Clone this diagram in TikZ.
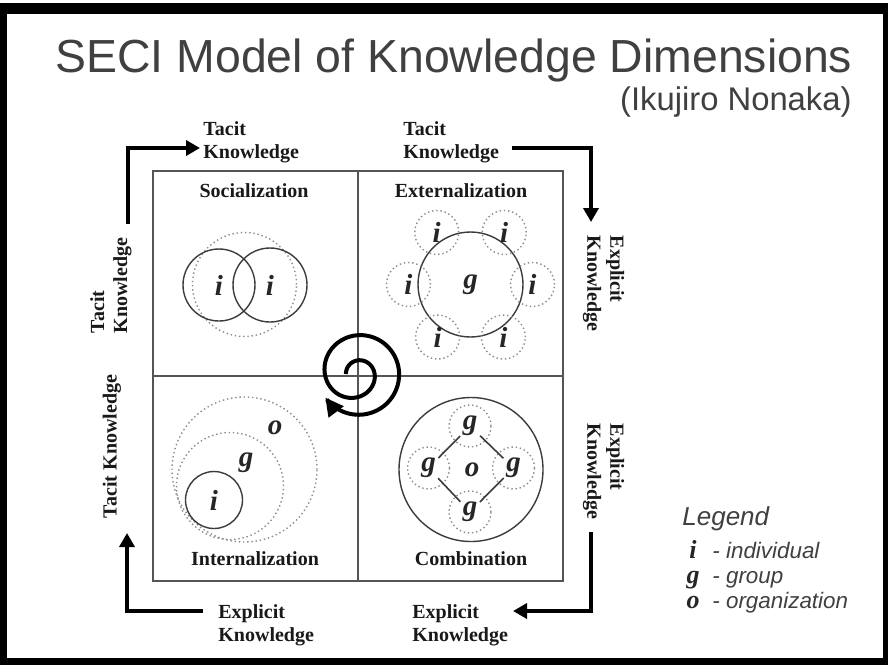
\documentclass[tikz,border=0pt]{standalone}
\usepackage{fontspec}
\setmainfont{Liberation Serif}
\newfontfamily\arialfont{Liberation Sans}
\usetikzlibrary{positioning,arrows.meta}
\definecolor{titlegray}{HTML}{404040}
\definecolor{ringgray}{HTML}{3C3C3C}
\definecolor{dotgray}{HTML}{8C8C8C}
\definecolor{gridgray}{HTML}{555555}
\tikzset{quadbox/.style={draw=gridgray, line width=0.7pt, minimum size=102.5pt, inner sep=0pt, outer sep=0pt},
  solidring/.style={circle, draw=ringgray, line width=0.7pt, inner sep=0pt},
  dotring/.style={circle, draw=dotgray, line width=0.7pt, dash pattern=on 0.7pt off 1.4pt, inner sep=0pt},
  letter/.style={font=\fontsize{14.5}{14.5}\selectfont\bfseries\itshape, text=black!85, inner sep=0pt},
  quadtitle/.style={font=\fontsize{10}{12}\selectfont\bfseries, text=black!90, anchor=base, inner sep=0pt},
  sidelabel/.style={font=\fontsize{10}{11.5}\selectfont\bfseries, text=black!90, align=left, inner sep=0pt},
  flowline/.style={line width=2pt, -{Triangle[length=7pt,width=7.5pt]}},
  legtext/.style={font=\arialfont\itshape\fontsize{11.2}{12}\selectfont, text=titlegray, anchor=base west, inner sep=0pt},
}

\begin{document}
\begin{tikzpicture}[x=0.5pt, y=-0.5pt]
\useasboundingbox (0,0) rectangle (888,665);
\fill[white] (0,0) rectangle (888,665);
\fill[black] (0,3) rectangle (888,665);
\fill[white] (7,14) rectangle (883,658);

% title
\node[font=\arialfont\fontsize{23.2}{26}\selectfont, text=titlegray, anchor=base west, inner sep=0pt] (title) at (55,72) {SECI Model of Knowledge Dimensions};
\node[font=\arialfont\fontsize{16.4}{18}\selectfont, text=titlegray, anchor=base east, inner sep=0pt] (author) at (852,110) {(Ikujiro Nonaka)};

% the four modes
\node[quadbox] (soc) at (255.5,273.5) {};
\node[quadbox, right=0pt of soc] (ext) {};
\node[quadbox, below=0pt of soc] (intl) {};
\node[quadbox, right=0pt of intl] (comb) {};
\node[quadtitle] (soctitle) at (254,197) {Socialization};
\node[quadtitle] (exttitle) at (461,197) {Externalization};
\node[quadtitle] (intltitle) at (255,565) {Internalization};
\node[quadtitle] (combtitle) at (471,565) {Combination};

% socialization
\node[dotring, minimum size=52pt] (socgroup) at (244.5,284.5) {};
\node[solidring, letter, minimum size=36pt] (soci1) at (219,285) {i};
\node[solidring, letter, minimum size=37pt] (soci2) at (270,285) {i};

% externalization
\node[solidring, letter, minimum size=52.5pt] (extg) at (470.5,284.5) {g};
\foreach \a [count=\k] in {0,58,122,180,237,303}
  \node[dotring, letter, minimum size=22pt] (exti\k) at ([shift={(\a:62)}]extg.center) {i};

% internalization
\node[dotring, minimum size=72.5pt] (orgring) at (244.5,469.5) {};
\node[dotring, minimum size=53.5pt] (grpring) at (230,486) {};
\node[solidring, letter, minimum size=28.5pt] (indring) at (214,500) {i};
\node[letter] (orglab) at (275,428) {o};
\node[letter] (grplab) at (246,463) {g};

% combination
\node[solidring, minimum size=72pt] (orgcirc) at (471,469.5) {};
\node[letter] (combo) at (472,470) {o};
\node[dotring, letter, minimum size=21pt] (gtop) at (470,426) {g};
\node[dotring, letter, minimum size=21pt] (gleft) at (428.5,468) {g};
\node[dotring, letter, minimum size=21pt] (gright) at (513.5,468) {g};
\node[dotring, letter, minimum size=21pt] (gbot) at (470,512) {g};
\draw[ringgray, line width=0.8pt, shorten >=7pt, shorten <=7pt] (gtop.center) -- (gleft.center);
\draw[ringgray, line width=0.8pt, shorten >=7pt, shorten <=7pt] (gtop.center) -- (gright.center);
\draw[ringgray, line width=0.8pt, shorten >=7pt, shorten <=7pt] (gbot.center) -- (gleft.center);
\draw[ringgray, line width=0.8pt, shorten >=7pt, shorten <=7pt] (gbot.center) -- (gright.center);

% spiral
\draw[line width=2pt, -{Triangle[length=9pt,width=9pt]}] plot[domain=0:685, samples=150, smooth]
  ({359 - (13+0.006*\x+24/(1+exp(-(\x-300)/45)))*cos(\x)}, {374 - (13+0.006*\x+24/(1+exp(-(\x-300)/45)))*sin(\x)});

% knowledge labels
\node[sidelabel, anchor=north west] (tacittop1) at (203,121) {Tacit\\Knowledge};
\node[sidelabel, anchor=north west] (tacittop2) at (403,121) {Tacit\\Knowledge};
\node[sidelabel, rotate=-90] (explright1) at (603.5,283.5) {Explicit\\Knowledge};
\node[sidelabel, rotate=-90] (explright2) at (603.5,471.5) {Explicit\\Knowledge};
\node[sidelabel, anchor=north west] (explbot2) at (412,604) {Explicit\\Knowledge};
\node[sidelabel, anchor=north west] (explbot1) at (218,604) {Explicit\\Knowledge};
\node[sidelabel, rotate=90] (tacitleft2) at (112,446.5) {Tacit Knowledge};
\node[sidelabel, rotate=90] (tacitleft1) at (111,285.5) {Tacit\\Knowledge};

% outer arrows
\coordinate (tlfoot) at (128,224);
\coordinate (tltip) at (200,148);
\coordinate (trfoot) at (512,148);
\coordinate (trtip) at (591,222);
\coordinate (brfoot) at (591,532);
\coordinate (brtip) at (513,611);
\coordinate (blfoot) at (203,611);
\coordinate (bltip) at (127,533);
\draw[flowline] (tlfoot) |- (tltip);
\draw[flowline] (trfoot) -| (trtip);
\draw[flowline] (brfoot) |- (brtip);
\draw[flowline] (blfoot) -| (bltip);

% legend
\node[font=\arialfont\itshape\fontsize{13}{14}\selectfont, text=titlegray, anchor=base west, inner sep=0pt] (legendhead) at (682,525) {Legend};
\foreach \sym/\word/\yy [count=\k] in {i/individual/558, g/group/583, o/organization/608} {
  \node[letter, font=\fontsize{13}{13}\selectfont\bfseries\itshape, anchor=base] (legsym\k) at (693,\yy) {\sym};
  \node[legtext] (legword\k) at (712,\yy) {- \word};
}
\end{tikzpicture}
\end{document}
